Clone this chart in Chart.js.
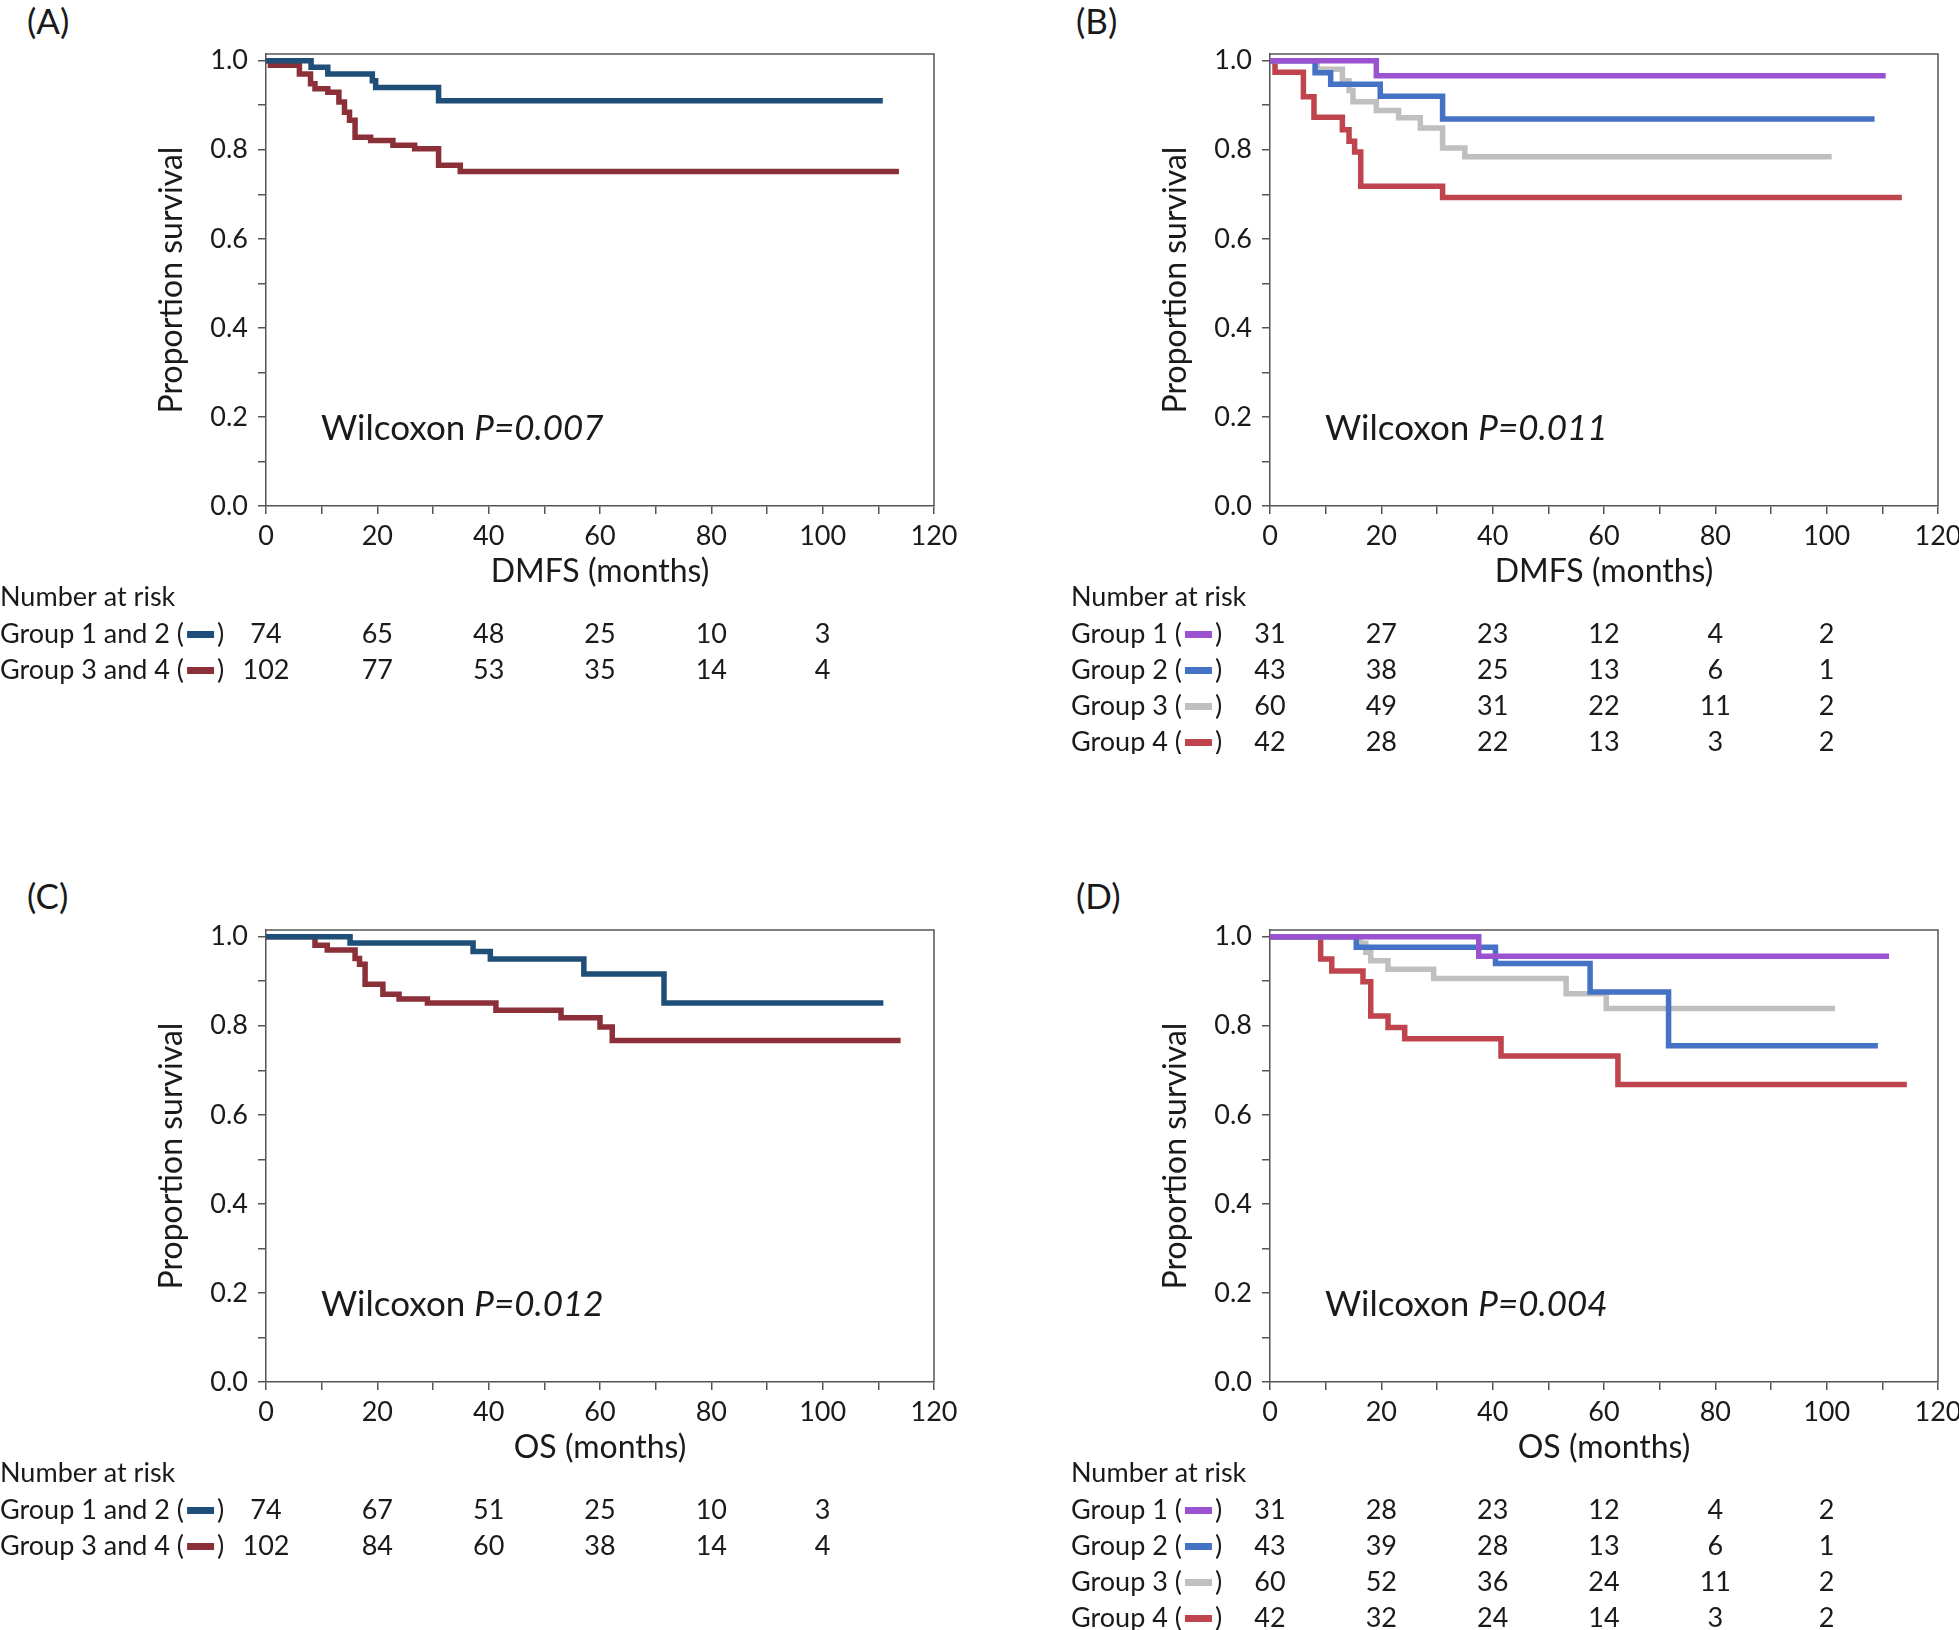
<!DOCTYPE html>
<html>
<head>
<meta charset="utf-8">
<title>Survival curves</title>
<script src="https://cdn.jsdelivr.net/npm/chart.js@4.4.1/dist/chart.umd.min.js"></script>
<style>
  body { margin: 0; background: #fff; width: 1959px; height: 1630px; position: relative; overflow: hidden; font-family: Lato, "Open Sans", sans-serif; color: #1a1a1a; }
  .panel { position: absolute; width: 975px; height: 754px; }
  .tag { position: absolute; font-size: 35px; line-height: 40px; }
</style>
</head>
<body>
<div class="tag" style="left:27px; top:0px">(A)</div>
<div class="tag" style="left:1076px; top:0px">(B)</div>
<div class="tag" style="left:27px; top:875px">(C)</div>
<div class="tag" style="left:1076px; top:875px">(D)</div>
<div class="panel" style="left:0; top:0"><canvas id="chartA" width="975" height="754"></canvas></div>
<div class="panel" style="left:1004px; top:0"><canvas id="chartB" width="975" height="754"></canvas></div>
<div class="panel" style="left:0; top:876px"><canvas id="chartC" width="975" height="754"></canvas></div>
<div class="panel" style="left:1004px; top:876px"><canvas id="chartD" width="975" height="754"></canvas></div>
<script>
// x axis (months) and number-at-risk time points
const xMin = 0, xMax = 120;
const riskTimes = [0, 20, 40, 60, 80, 100];

// (A) DMFS, groups 1+2 vs 3+4
const dmfsG12Time = [0, 8.1, 11.1, 19.1, 19.7, 31.0, 110.8];
const dmfsG12Surv = [1.0, 0.985, 0.970, 0.955, 0.940, 0.910, 0.910];
const dmfsG34Time = [0, 0.8, 6.0, 8.0, 8.8, 11.1, 13.1, 14.1, 15.0, 16.0, 18.8, 22.8, 26.7, 31.0, 34.9, 113.7];
const dmfsG34Surv = [1.0, 0.990, 0.970, 0.948, 0.937, 0.929, 0.907, 0.884, 0.866, 0.828, 0.821, 0.810, 0.802, 0.765, 0.751, 0.751];

// (B) DMFS, groups 1-4
const dmfsG1Time = [0, 19.1, 110.6];
const dmfsG1Surv = [1.0, 0.966, 0.966];
const dmfsG2Time = [0, 8.1, 10.9, 19.8, 31.0, 108.6];
const dmfsG2Surv = [1.0, 0.973, 0.947, 0.920, 0.869, 0.869];
const dmfsG3Time = [0, 8.5, 13.0, 14.2, 14.9, 19.1, 23.1, 27.0, 31.0, 35.0, 100.9];
const dmfsG3Surv = [1.0, 0.981, 0.955, 0.933, 0.908, 0.888, 0.872, 0.849, 0.804, 0.784, 0.784];
const dmfsG4Time = [0, 0.9, 6.0, 7.9, 13.0, 14.2, 15.2, 16.3, 31.0, 113.5];
const dmfsG4Surv = [1.0, 0.974, 0.919, 0.873, 0.845, 0.819, 0.795, 0.718, 0.693, 0.693];

// (C) OS, groups 1+2 vs 3+4
const osG12Time = [0, 15.1, 37.2, 40.3, 57.1, 71.5, 110.9];
const osG12Surv = [1.0, 0.986, 0.967, 0.950, 0.916, 0.851, 0.851];
const osG34Time = [0, 8.8, 11.0, 16.0, 16.8, 17.8, 21.0, 23.9, 29.0, 41.3, 53.0, 60.0, 62.2, 114.0];
const osG34Surv = [1.0, 0.981, 0.970, 0.951, 0.938, 0.893, 0.871, 0.860, 0.851, 0.835, 0.818, 0.797, 0.767, 0.767];

// (D) OS, groups 1-4
const osG1Time = [0, 37.5, 111.2];
const osG1Surv = [1.0, 0.956, 0.956];
const osG2Time = [0, 15.5, 40.5, 57.5, 71.6, 109.2];
const osG2Surv = [1.0, 0.976, 0.940, 0.876, 0.755, 0.755];
const osG3Time = [0, 16.2, 17.2, 18.1, 21.2, 29.4, 53.2, 60.4, 101.5];
const osG3Surv = [1.0, 0.985, 0.965, 0.946, 0.927, 0.906, 0.872, 0.839, 0.839];
const osG4Time = [0, 9.1, 11.1, 16.7, 18.1, 21.2, 24.2, 41.5, 62.5, 114.4];
const osG4Surv = [1.0, 0.950, 0.923, 0.899, 0.822, 0.796, 0.771, 0.732, 0.668, 0.668];

// number at risk
const dmfsRiskG12 = [74, 65, 48, 25, 10, 3];
const dmfsRiskG34 = [102, 77, 53, 35, 14, 4];
const dmfsRiskG1 = [31, 27, 23, 12, 4, 2];
const dmfsRiskG2 = [43, 38, 25, 13, 6, 1];
const dmfsRiskG3 = [60, 49, 31, 22, 11, 2];
const dmfsRiskG4 = [42, 28, 22, 13, 3, 2];
const osRiskG12 = [74, 67, 51, 25, 10, 3];
const osRiskG34 = [102, 84, 60, 38, 14, 4];
const osRiskG1 = [31, 28, 23, 12, 4, 2];
const osRiskG2 = [43, 39, 28, 13, 6, 1];
const osRiskG3 = [60, 52, 36, 24, 11, 2];
const osRiskG4 = [42, 32, 24, 14, 3, 2];

const navy = '#1f4e79';
const darkRed = '#8b3039';
const purple = '#9a52d0';
const blue = '#4472c4';
const grey = '#bfbfbf';
const red = '#bf444d';

const FONT = 'Lato, "Open Sans", sans-serif';
const TXT = '#1a1a1a';
const AXIS = '#555';

function toPoints(times, surv) {
    return times.map((t, i) => ({ x: t, y: surv[i] }));
}

// box around plot area (left/bottom come from the axes)
const frame = {
    id: 'frame',
    beforeDatasetsDraw(chart) {
        const { ctx, chartArea: a } = chart;
        ctx.save();
        ctx.strokeStyle = AXIS;
        ctx.lineWidth = 1.5;
        ctx.beginPath();
        ctx.moveTo(a.left, a.top);
        ctx.lineTo(a.right, a.top);
        ctx.lineTo(a.right, a.bottom);
        ctx.stroke();
        ctx.restore();
    }
};

function extras(pValue, rows, tableLeft) {
    return {
        id: 'extras',
        afterDraw(chart) {
            const { ctx, chartArea: a } = chart;
            const xs = chart.scales.x;
            ctx.save();
            ctx.fillStyle = TXT;
            ctx.textBaseline = 'middle';

            // Wilcoxon label
            ctx.textAlign = 'left';
            ctx.font = '35px ' + FONT;
            const w = 'Wilcoxon ';
            ctx.fillText(w, a.left + 55, 429);
            const wx = a.left + 55 + ctx.measureText(w).width;
            ctx.font = 'italic 35px ' + FONT;
            ctx.fillText('P=' + pValue, wx, 429);

            // number at risk table
            ctx.font = '27px ' + FONT;
            ctx.fillText('Number at risk', tableLeft, 597);
            rows.forEach((row, r) => {
                const y = 634 + r * 36;
                ctx.textAlign = 'left';
                ctx.fillStyle = TXT;
                const lbl = row.label + ' (';
                ctx.fillText(lbl, tableLeft, y);
                const bx = tableLeft + ctx.measureText(lbl).width + 3;
                ctx.fillStyle = row.color;
                ctx.fillRect(bx, y - 3, 27, 7);
                ctx.fillStyle = TXT;
                ctx.fillText(')', bx + 30, y);
                ctx.textAlign = 'center';
                row.counts.forEach((n, i) => {
                    ctx.fillText(String(n), xs.getPixelForValue(riskTimes[i]), y);
                });
            });
            ctx.restore();
        }
    };
}

function makePanel(id, xTitle, series, pValue, rows, tableLeft) {
    new Chart(document.getElementById(id), {
        type: 'line',
        data: {
            datasets: series.map(s => ({
                data: toPoints(s.time, s.surv),
                borderColor: s.color,
                borderWidth: 5.5,
                stepped: 'before',
                pointRadius: 0,
                fill: false
            }))
        },
        options: {
            responsive: false,
            animation: false,
            layout: { padding: { top: 54, right: 41, left: 0, bottom: 0 } },
            plugins: { legend: { display: false }, tooltip: { enabled: false } },
            scales: {
                x: {
                    type: 'linear',
                    min: xMin,
                    max: xMax,
                    ticks: {
                        stepSize: 10,
                        autoSkip: false,
                        maxRotation: 0,
                        padding: 6,
                        color: TXT,
                        font: { family: FONT, size: 27 },
                        callback: v => (v % 20 === 0 ? String(v) : '')
                    },
                    grid: { drawOnChartArea: false, tickLength: 8, color: AXIS, lineWidth: 1.5 },
                    border: { color: AXIS, width: 1.5 },
                    title: {
                        display: true,
                        text: xTitle,
                        color: TXT,
                        font: { family: FONT, size: 32 },
                        padding: { top: 0, bottom: 163 }
                    },
                    afterFit: s => { s.height = 248; s.paddingLeft = 0; s.paddingRight = 0; }
                },
                y: {
                    min: 0,
                    max: 1.015,
                    ticks: {
                        stepSize: 0.1,
                        includeBounds: false,
                        autoSkip: false,
                        padding: 10,
                        color: TXT,
                        font: { family: FONT, size: 27 },
                        callback: v => (Math.round(v * 10) % 2 === 0 ? v.toFixed(1) : '')
                    },
                    grid: { drawOnChartArea: false, tickLength: 8, color: AXIS, lineWidth: 1.5 },
                    border: { color: AXIS, width: 1.5 },
                    title: {
                        display: true,
                        text: 'Proportion survival',
                        color: TXT,
                        font: { family: FONT, size: 32 },
                        padding: { top: 152, bottom: 0 }
                    },
                    afterFit: s => { s.width = 266; s.paddingTop = 0; s.paddingBottom = 0; }
                }
            }
        },
        plugins: [frame, extras(pValue, rows, tableLeft)]
    });
}

makePanel('chartA', 'DMFS (months)', [
    { time: dmfsG12Time, surv: dmfsG12Surv, color: navy },
    { time: dmfsG34Time, surv: dmfsG34Surv, color: darkRed }
], '0.007', [
    { label: 'Group 1 and 2', color: navy, counts: dmfsRiskG12 },
    { label: 'Group 3 and 4', color: darkRed, counts: dmfsRiskG34 }
], 0);

makePanel('chartB', 'DMFS (months)', [
    { time: dmfsG1Time, surv: dmfsG1Surv, color: purple },
    { time: dmfsG2Time, surv: dmfsG2Surv, color: blue },
    { time: dmfsG3Time, surv: dmfsG3Surv, color: grey },
    { time: dmfsG4Time, surv: dmfsG4Surv, color: red }
], '0.011', [
    { label: 'Group 1', color: purple, counts: dmfsRiskG1 },
    { label: 'Group 2', color: blue, counts: dmfsRiskG2 },
    { label: 'Group 3', color: grey, counts: dmfsRiskG3 },
    { label: 'Group 4', color: red, counts: dmfsRiskG4 }
], 67);

makePanel('chartC', 'OS (months)', [
    { time: osG12Time, surv: osG12Surv, color: navy },
    { time: osG34Time, surv: osG34Surv, color: darkRed }
], '0.012', [
    { label: 'Group 1 and 2', color: navy, counts: osRiskG12 },
    { label: 'Group 3 and 4', color: darkRed, counts: osRiskG34 }
], 0);

makePanel('chartD', 'OS (months)', [
    { time: osG1Time, surv: osG1Surv, color: purple },
    { time: osG2Time, surv: osG2Surv, color: blue },
    { time: osG3Time, surv: osG3Surv, color: grey },
    { time: osG4Time, surv: osG4Surv, color: red }
], '0.004', [
    { label: 'Group 1', color: purple, counts: osRiskG1 },
    { label: 'Group 2', color: blue, counts: osRiskG2 },
    { label: 'Group 3', color: grey, counts: osRiskG3 },
    { label: 'Group 4', color: red, counts: osRiskG4 }
], 67);
</script>
</body>
</html>
